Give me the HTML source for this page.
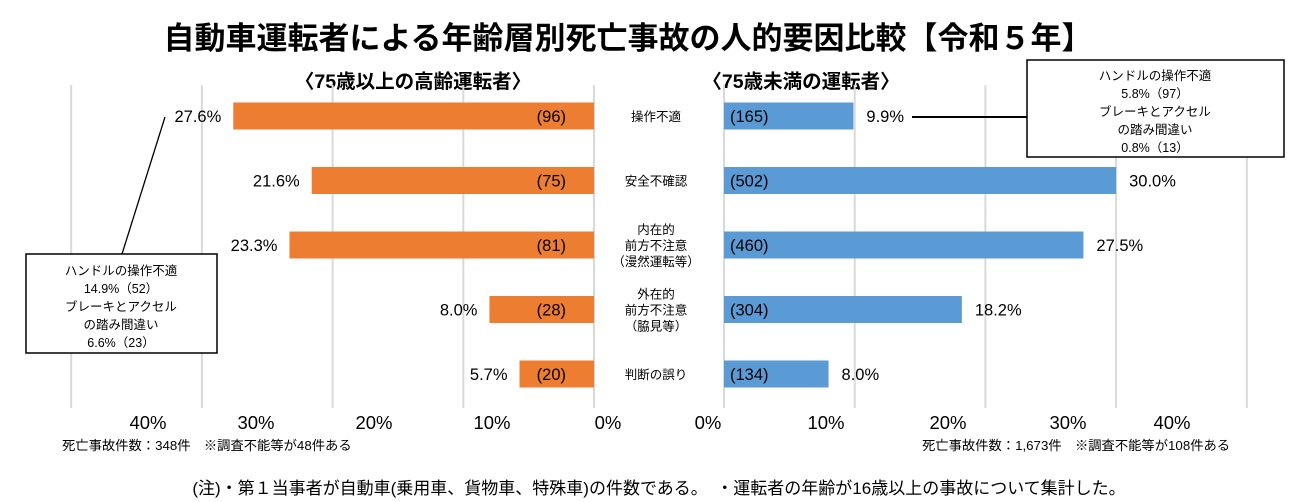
<!DOCTYPE html>
<html><head><meta charset="utf-8">
<style>
body{margin:0;background:#fff;}
svg{display:block;font-family:"Liberation Sans","Noto Sans CJK JP",sans-serif;}
</style></head>
<body>
<svg id="c" width="1302" height="502" viewBox="0 0 1302 502" xmlns="http://www.w3.org/2000/svg">
<text x="628" y="49" text-anchor="middle" font-size="31" font-weight="bold" fill="#000">自動車運転者による年齢層別死亡事故の人的要因比較【令和５年】</text>
<text x="413" y="88" text-anchor="middle" font-size="19.5" font-weight="bold">〈75歳以上の高齢運転者〉</text>
<text x="801" y="88" text-anchor="middle" font-size="19.5" font-weight="bold">〈75歳未満の運転者〉</text>
<g id="grid"></g>
<g id="bars"></g>
<g id="cats"></g>
<g id="ticks"></g>
<line x1="122" y1="254" x2="165" y2="117" stroke="#000" stroke-width="1.3"/>
<rect x="26" y="254" width="191" height="99" fill="#fff" stroke="#000" stroke-width="1.5"/>
<g font-size="12.5" text-anchor="middle">
<text x="121" y="275">ハンドルの操作不適</text>
<text x="121" y="293">14.9%（52）</text>
<text x="121" y="311">ブレーキとアクセル</text>
<text x="121" y="329">の踏み間違い</text>
<text x="121" y="347">6.6%（23）</text>
</g>
<line x1="912" y1="117" x2="1027" y2="117" stroke="#000" stroke-width="2"/>
<rect x="1027" y="60" width="257" height="97" fill="#fff" stroke="#000" stroke-width="1.5"/>
<g font-size="12.5" text-anchor="middle">
<text x="1155" y="80">ハンドルの操作不適</text>
<text x="1155" y="98">5.8%（97）</text>
<text x="1155" y="116">ブレーキとアクセル</text>
<text x="1155" y="134">の踏み間違い</text>
<text x="1155" y="152">0.8%（13）</text>
</g>
<text x="62" y="450" font-size="13.3">死亡事故件数：348件　※調査不能等が48件ある</text>
<text x="922" y="450" font-size="13.3">死亡事故件数：1,673件　※調査不能等が108件ある</text>
<text x="659" y="494" text-anchor="middle" font-size="17">(注)・第１当事者が自動車(乗用車、貨物車、特殊車)の件数である。　・運転者の年齢が16歳以上の事故について集計した。</text>
</svg>
<script>
const categories=[["操作不適"],["安全不確認"],["内在的","前方不注意","（漫然運転等）"],["外在的","前方不注意","（脇見等）"],["判断の誤り"]];
const elderPct=[27.6,21.6,23.3,8.0,5.7];
const elderCount=[96,75,81,28,20];
const youngPct=[9.9,30.0,27.5,18.2,8.0];
const youngCount=[165,502,460,304,134];
const leftTicks=["40%","30%","20%","10%","0%"];
const rightTicks=["0%","10%","20%","30%","40%"];

const NS="http://www.w3.org/2000/svg";
const L0=594,R0=724,PX=13.07;
const xl=v=>L0-v*PX, xr=v=>R0+v*PX;
const rowY=i=>116+i*64.5;
const BH=27;
function mk(tag,attrs,parent,txt){const e=document.createElementNS(NS,tag);for(const k in attrs)e.setAttribute(k,attrs[k]);if(txt!==undefined)e.textContent=txt;parent.appendChild(e);return e;}
const grid=document.getElementById('grid'),bars=document.getElementById('bars'),cats=document.getElementById('cats'),ticks=document.getElementById('ticks');
[0,10,20,30,40].forEach(v=>{
  let g1=mk('line',{x1:xl(v),x2:xl(v),y1:85,y2:408,stroke:'#d9d9d9','stroke-width':2},grid);
  
  
  let g2=mk('line',{x1:xr(v),x2:xr(v),y1:85,y2:408,stroke:'#d9d9d9','stroke-width':2},grid);
  
  
});
const ltx=[148,256,374,492,608], rtx=[708,826,948,1068,1172];
leftTicks.forEach((t,i)=>{let e=mk('text',{x:ltx[i],y:429,'font-size':18.5,'text-anchor':'middle'},ticks,t);
  
  });
rightTicks.forEach((t,i)=>{let e=mk('text',{x:rtx[i],y:429,'font-size':18.5,'text-anchor':'middle'},ticks,t);
  
  });
categories.forEach((c,i)=>{
  const y=rowY(i);
  let b=mk('rect',{x:xl(elderPct[i]),y:y-BH/2,width:L0-xl(elderPct[i]),height:BH,fill:'#ed7d31'},bars);
  
  
  let t=mk('text',{x:566,y:y+6,'font-size':16.5,'text-anchor':'end'},bars,'('+elderCount[i]+')');
  
  
  let p=mk('text',{x:xl(elderPct[i])-(i==0?12:12),y:y+6,'font-size':16.5,'text-anchor':'end'},bars,elderPct[i].toFixed(1)+'%');
  
  
  let b2=mk('rect',{x:R0,y:y-BH/2,width:xr(youngPct[i])-R0,height:BH,fill:'#5b9bd5'},bars);
  
  
  let t2=mk('text',{x:730,y:y+6,'font-size':16.5},bars,'('+youngCount[i]+')');
  
  
  let p2=mk('text',{x:xr(youngPct[i])+13,y:y+6,'font-size':16.5},bars,youngPct[i].toFixed(1)+'%');
  
  
  const n=c.length;
  c.forEach((s,j)=>{let e=mk('text',{x:656,y:y+5+(j-(n-1)/2)*16,'font-size':12.5,'text-anchor':'middle'},cats,s);
    
    });
});
</script>
</body></html>
